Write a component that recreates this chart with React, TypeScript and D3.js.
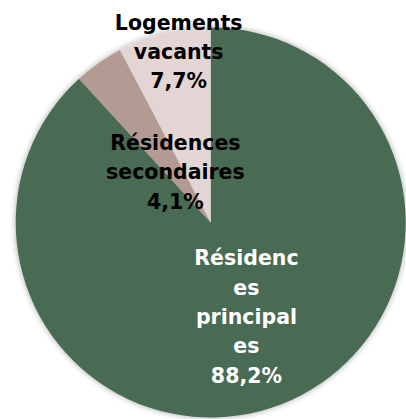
import React from "react";
import * as d3 from "d3";

const categories = ["Résidences principales", "Résidences secondaires", "Logements vacants"];
const values = [88.2, 4.1, 7.7];
const labelLines = [
  ["Résidenc", "es", "principal", "es", "88,2%"],
  ["Résidences", "secondaires", "4,1%"],
  ["Logements", "vacants", "7,7%"],
];
const colors = ["#496b52", "#b39a93", "#e2d5d3"];
const textColors = ["#ffffff", "#000000", "#000000"];
const labelRadiusFrac = [0.52, 0.315, 0.9];
const labelDx = [-1, 0, 10];

const W = 406;
const H = 419;
const cx = 210.7;
const cy = 222.5;
const R = 195;
const lineH = 29.3;
const fontSize = 20.5;

export default function App() {
  const pie = d3
    .pie<number>()
    .sort(null)
    .value((d) => d)
    .startAngle(0)
    .endAngle(2 * Math.PI);
  const arcs = pie(values);
  const arc = d3.arc<d3.PieArcDatum<number>>().innerRadius(0).outerRadius(R);

  return (
    <svg
      width={W}
      height={H}
      style={{ position: "absolute", left: 0, top: 0, background: "#fff" }}
    >
      <defs>
        <filter id="sh" x="-20%" y="-20%" width="140%" height="140%">
          <feGaussianBlur in="SourceAlpha" stdDeviation="3" />
          <feOffset dx="0" dy="0" result="b" />
          <feComponentTransfer>
            <feFuncA type="linear" slope="0.35" />
          </feComponentTransfer>
          <feMerge>
            <feMergeNode />
            <feMergeNode in="SourceGraphic" />
          </feMerge>
        </filter>
      </defs>
      <g transform={`translate(${cx},${cy})`} filter="url(#sh)">
        {arcs.map((a, i) => (
          <path key={categories[i]} d={arc(a) || ""} fill={colors[i]} />
        ))}
      </g>
      <g transform={`translate(${cx},${cy})`}>
        {arcs.map((a, i) => {
          const mid = (a.startAngle + a.endAngle) / 2;
          const lr = R * labelRadiusFrac[i];
          const x = Math.sin(mid) * lr + labelDx[i];
          const y = -Math.cos(mid) * lr;
          const lines = labelLines[i];
          const y0 = y - ((lines.length - 1) * lineH) / 2;
          return (
            <text
              key={categories[i]}
              textAnchor="middle"
              fontFamily="'DejaVu Sans', sans-serif"
              fontWeight="bold"
              fontSize={fontSize}
              fill={textColors[i]}
            >
              {lines.map((l, j) => (
                <tspan key={j} x={x} y={y0 + j * lineH} dominantBaseline="central">
                  {l}
                </tspan>
              ))}
            </text>
          );
        })}
      </g>
    </svg>
  );
}
